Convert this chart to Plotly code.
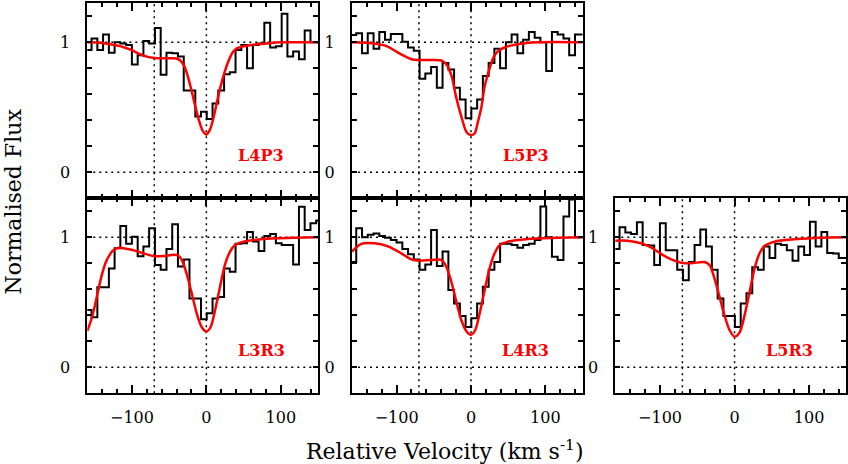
import plotly.graph_objects as go

# ---------------- data ----------------
# left edges of the velocity bins (km/s) plus the final right edge
VEL_EDGES = [-162.0, -154.3, -146.5, -138.8, -131.0, -123.3, -115.6, -107.8, -100.1, -92.3,
             -84.6, -76.9, -69.1, -61.4, -53.6, -45.9, -38.2, -30.4, -22.7, -14.9,
             -7.2, 0.5, 8.3, 16.0, 23.8, 31.5, 39.2, 47.0, 54.7, 62.5,
             70.2, 77.9, 85.7, 93.4, 101.2, 108.9, 116.6, 124.4, 132.1, 139.9,
             147.6, 155.3]

FLUX_L4P3 = [0.94, 1.03, 0.94, 1.06, 0.92, 1.00, 0.99, 0.98, 0.83, 0.90, 1.01, 0.99, 1.11, 0.75,
             0.92, 0.915, 0.89, 0.63, 0.63, 0.43, 0.465, 0.41, 0.53, 0.63, 0.755, 0.77, 0.94,
             0.98, 0.80, 0.98, 0.99, 1.15, 0.96, 0.97, 1.22, 0.89, 0.93, 0.87, 1.09, 1.00, 1.00]
FLUX_L5P3 = [1.056, 1.07, 0.915, 1.07, 0.95, 1.08, 1.02, 1.064, 1.064, 1.005, 0.96, 0.935, 0.72,
             0.76, 0.81, 0.65, 0.84, 0.79, 0.65, 0.56, 0.415, 0.49, 0.56, 0.74, 0.84, 0.95, 0.80,
             1.0, 1.06, 0.915, 1.02, 1.08, 1.035, 1.0, 0.78, 1.08, 1.06, 1.03, 0.90, 1.06, 1.06]
FLUX_L3R3 = [0.44, 0.385, 0.615, 0.615, 0.76, 0.915, 1.087, 0.95, 1.005, 0.855, 0.93, 1.07, 0.787,
             0.75, 0.91, 1.10, 0.775, 0.83, 0.53, 0.53, 0.37, 0.415, 0.53, 0.54, 0.76, 0.735,
             0.95, 0.955, 1.04, 0.967, 0.895, 1.01, 1.025, 0.955, 0.94, 0.94, 0.79, 1.235,
             1.056, 1.108, 1.13]
FLUX_L4R3 = [0.81, 1.07, 1.0, 1.02, 1.03, 1.01, 0.997, 0.98, 0.96, 0.91, 0.87, 0.83, 0.75, 0.79,
             1.056, 0.78, 0.89, 0.595, 0.49, 0.395, 0.31, 0.377, 0.49, 0.62, 0.75, 0.81, 0.95,
             0.95, 0.94, 0.92, 0.94, 0.95, 0.98, 1.236, 1.0, 0.85, 0.826, 1.16, 1.29, 1.0, 1.0]
FLUX_L5R3 = [0.91, 1.077, 1.036, 1.026, 1.115, 0.94, 0.936, 0.787, 1.108, 0.90, 0.90, 0.75, 0.67,
             0.81, 0.94, 1.06, 0.93, 0.75, 0.53, 0.395, 0.395, 0.31, 0.49, 0.57, 0.77, 0.75,
             0.93, 0.84, 0.95, 0.94, 0.90, 0.82, 0.93, 0.864, 1.12, 0.93, 1.04, 0.88, 0.875,
             0.84, 0.84]

MODEL_V_L4P3 = [-160, -140, -120, -110, -100, -90, -80, -70, -60, -50, -40, -35, -30, -25, -20,
                -15, -10, -5, 0, 5, 10, 15, 20, 25, 30, 35, 40, 50, 60, 80, 100, 150]
MODEL_F_L4P3 = [1.0, 0.995, 0.975, 0.96, 0.94, 0.91, 0.89, 0.88, 0.877, 0.877, 0.875, 0.86, 0.82,
                0.74, 0.63, 0.51, 0.40, 0.32, 0.29, 0.33, 0.43, 0.56, 0.68, 0.78, 0.86, 0.92,
                0.95, 0.97, 0.98, 0.99, 1.0, 1.0]
MODEL_V_L5P3 = [-160, -130, -112, -98, -80, -70, -57, -40, -33, -26, -20, -13, -6, 0, 5, 9, 14,
                18, 23, 30, 36, 45, 63, 90, 150]
MODEL_F_L5P3 = [1.0, 0.99, 0.967, 0.92, 0.87, 0.864, 0.864, 0.86, 0.83, 0.74, 0.58, 0.43, 0.31,
                0.285, 0.30, 0.38, 0.50, 0.65, 0.76, 0.88, 0.93, 0.96, 0.985, 1.0, 1.0]
MODEL_V_L3R3 = [-160, -155, -150, -145, -140, -135, -130, -125, -118, -111.7, -98, -85, -71, -58,
                -44, -38, -33, -26.5, -19.7, -13, -6.3, 0, 5.8, 11.7, 18.4, 25, 31.8, 38.6, 49.8,
                76.7, 121.5, 150]
MODEL_F_L3R3 = [0.28, 0.36, 0.47, 0.60, 0.72, 0.81, 0.865, 0.90, 0.92, 0.915, 0.90, 0.877, 0.856,
                0.856, 0.865, 0.86, 0.826, 0.72, 0.57, 0.415, 0.31, 0.275, 0.31, 0.44, 0.62, 0.79,
                0.89, 0.94, 0.967, 0.987, 0.997, 1.0]
MODEL_V_L4R3 = [-160, -147.5, -129.6, -111.7, -93.7, -80.3, -69, -53.4, -40, -33.2, -26.5, -19.7,
                -13, -6.3, 0, 5.8, 11.7, 18.4, 25, 31.8, 38.6, 49.8, 76.7, 121.5, 150]
MODEL_F_L4R3 = [0.89, 0.95, 0.954, 0.93, 0.877, 0.83, 0.82, 0.826, 0.826, 0.775, 0.66, 0.505,
                0.364, 0.28, 0.25, 0.287, 0.415, 0.595, 0.76, 0.877, 0.94, 0.967, 0.987, 0.997,
                1.0]
MODEL_V_L5R3 = [-160.5, -143.5, -125.6, -112, -98.7, -85, -71.7, -58.3, -40.4, -33.6, -26.9,
                -20.2, -13.5, -6.7, 0, 6.7, 13.5, 20.2, 26.9, 33.6, 40.4, 53.8, 80.7, 116.6, 150]
MODEL_F_L5R3 = [0.974, 0.974, 0.954, 0.923, 0.872, 0.83, 0.805, 0.80, 0.81, 0.787, 0.685, 0.544,
                0.40, 0.287, 0.236, 0.267, 0.40, 0.58, 0.76, 0.877, 0.933, 0.967, 0.985, 0.997,
                1.0]

LABELS = ["L4P3", "L5P3", "L3R3", "L4R3", "L5R3"]
FLUXES = [FLUX_L4P3, FLUX_L5P3, FLUX_L3R3, FLUX_L4R3, FLUX_L5R3]
MODELS_V = [MODEL_V_L4P3, MODEL_V_L5P3, MODEL_V_L3R3, MODEL_V_L4R3, MODEL_V_L5R3]
MODELS_F = [MODEL_F_L4P3, MODEL_F_L5P3, MODEL_F_L3R3, MODEL_F_L4R3, MODEL_F_L5R3]
X_TICKS = [-100, 0, 100]
Y_TICKS = [0, 1]
REF_VELS = [-70, 0]
REF_FLUX = [0, 1]

# ---------------- layout ----------------
W, H = 848, 464
FONT = "DejaVu Serif"
cols = [(87.3, 318.0), (352.0, 582.5), (615.3, 846.3)]
rows = [(3.3, 198.3), (198.3, 393.3)]
# panel -> (col, row)
panel_pos = [(0, 0), (1, 0), (0, 1), (1, 1), (2, 1)]

fig = go.Figure()
layout = dict(width=W, height=H, margin=dict(l=0, r=0, t=0, b=0),
              paper_bgcolor="white", plot_bgcolor="white", showlegend=False,
              font=dict(family=FONT, size=16, color="black"))
shapes = []
annotations = []
dash = "2px,4px"

for i, (lab, flux, mv, mf) in enumerate(zip(LABELS, FLUXES, MODELS_V, MODELS_F)):
    c, r = panel_pos[i]
    n = i + 1
    xa = "x" if n == 1 else f"x{n}"
    ya = "y" if n == 1 else f"y{n}"
    xkey = "xaxis" if n == 1 else f"xaxis{n}"
    ykey = "yaxis" if n == 1 else f"yaxis{n}"
    x0, x1 = cols[c]
    y0, y1 = rows[r]
    common = dict(showline=True, linewidth=2, linecolor="black", mirror="allticks",
                  ticks="inside", tickcolor="black", tickwidth=1.5,
                  showgrid=False, zeroline=False, fixedrange=True)
    layout[xkey] = dict(common, domain=[x0 / W, x1 / W], range=[-160, 150], anchor=ya,
                        tickvals=X_TICKS, ticklen=8,
                        minor=dict(dtick=20, tick0=0, ticklen=4, ticks="inside",
                                   tickcolor="black", tickwidth=1.5, showgrid=False),
                        showticklabels=(r == 1), ticklabelstandoff=8,
                        tickfont=dict(family=FONT, size=16))
    layout[ykey] = dict(common, domain=[1 - y1 / H, 1 - y0 / H], range=[-0.2, 1.3], anchor=xa,
                        tickvals=Y_TICKS, ticklen=5,
                        minor=dict(dtick=0.2, tick0=0, ticklen=5, ticks="inside",
                                   tickcolor="black", tickwidth=1.5, showgrid=False),
                        ticklabelstandoff=12, tickfont=dict(family=FONT, size=16))

    for v in REF_VELS:
        shapes.append(dict(type="line", xref=xa, yref=f"{ya} domain", x0=v, x1=v, y0=0, y1=1,
                           line=dict(color="black", width=1.5, dash=dash), layer="below"))
    for f in REF_FLUX:
        shapes.append(dict(type="line", xref=f"{xa} domain", yref=ya, x0=0, x1=1, y0=f, y1=f,
                           line=dict(color="black", width=1.5, dash=dash), layer="below"))

    fig.add_trace(go.Scatter(x=VEL_EDGES, y=flux + [flux[-1]], mode="lines",
                             line=dict(color="black", width=2, shape="hv"),
                             xaxis=xa, yaxis=ya, hoverinfo="skip"))
    fig.add_trace(go.Scatter(x=mv, y=mf, mode="lines",
                             line=dict(color="red", width=2.5, shape="spline", smoothing=0.8),
                             xaxis=xa, yaxis=ya, hoverinfo="skip"))
    annotations.append(dict(text="<b>" + lab + "</b>", x=74, y=0.13, xref=xa, yref=ya,
                            showarrow=False, xanchor="center", yanchor="middle",
                            font=dict(family=FONT, size=16, color="red")))

annotations.append(dict(text="Normalised Flux", x=13.5 / W, y=1 - 202 / H, xref="paper",
                        yref="paper", showarrow=False, textangle=-90,
                        xanchor="center", yanchor="middle",
                        font=dict(family=FONT, size=22, color="black")))
annotations.append(dict(text="Relative Velocity (km s<sup>-1</sup>)", x=445 / W, y=1 - 450 / H,
                        xref="paper", yref="paper", showarrow=False,
                        xanchor="center", yanchor="middle",
                        font=dict(family=FONT, size=22, color="black")))

layout["shapes"] = shapes
layout["annotations"] = annotations
fig.update_layout(**layout)
fig.write_html("out.html", config={"displayModeBar": False},
               post_script="document.body.style.margin='0px';document.body.style.padding='0px';")
